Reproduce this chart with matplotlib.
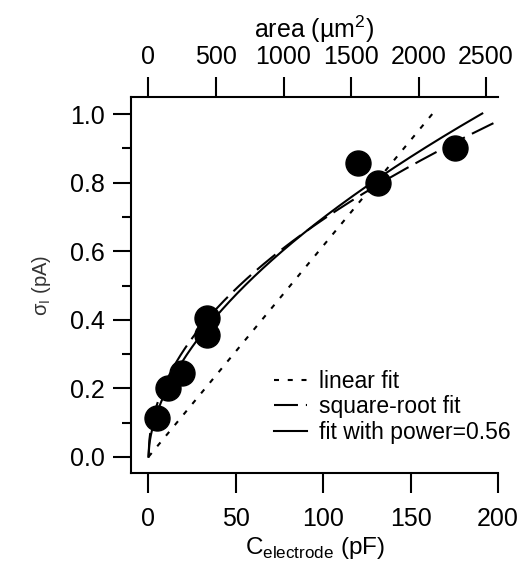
import matplotlib
matplotlib.use("Agg")
import matplotlib.pyplot as plt
import numpy as np

plt.rcParams["font.family"] = ["Liberation Sans", "DejaVu Sans"]
plt.rcParams["mathtext.fontset"] = "custom"
plt.rcParams["mathtext.rm"] = "Liberation Sans"

# measured points
c_electrode = [4.6, 11.4, 19.4, 33.7, 33.7, 120.0, 131.4, 175.4]   # pF
sigma_i = [0.114, 0.200, 0.245, 0.356, 0.405, 0.857, 0.800, 0.900]  # pA

# fit parameters
linear_slope = 0.00616
linear_cmax = 163.0
sqrt_coef = 0.0693
sqrt_cmax = 199.0
power_coef = 0.0529
power_exp = 0.56
power_cmax = 191.0

area_per_pf = 12.94  # um^2 per pF

x_ticks = [0, 50, 100, 150, 200]
y_ticks = [0.0, 0.2, 0.4, 0.6, 0.8, 1.0]
area_ticks = [0, 500, 1000, 1500, 2000, 2500]

LW = 1.5
TICK_FS = 18

fig = plt.figure(figsize=(5.32, 5.72), dpi=100)
ax = fig.add_axes([131 / 532, 1 - 473 / 572, 367 / 532, 376 / 572])

c_lin = np.linspace(0, linear_cmax, 200)
c_sqrt = np.linspace(0, sqrt_cmax, 400)
c_pow = np.linspace(0, power_cmax, 400)

ax.plot(c_lin, linear_slope * c_lin, color="black", lw=LW,
        linestyle=(0, (2.4, 4.2)), label="linear fit")
ax.plot(c_sqrt, sqrt_coef * np.sqrt(c_sqrt), color="black", lw=LW,
        linestyle=(0, (11.5, 3.8)), label="square-root fit")
ax.plot(c_pow, power_coef * c_pow ** power_exp, color="black", lw=LW,
        label="fit with power=0.56")
ax.plot(c_electrode, sigma_i, "o", color="black", ms=18, mec="black",
        zorder=5)

ax.set_xlim(-10, 200)
ax.set_ylim(-0.047, 1.05)
ax.set_xticks(x_ticks)
ax.set_yticks(y_ticks)
ax.set_yticks(np.arange(0.1, 1.0, 0.2), minor=True)
ax.set_yticklabels([f"{v:.1f}" for v in y_ticks])

for side in ("top", "right"):
    ax.spines[side].set_visible(False)
for side in ("left", "bottom"):
    ax.spines[side].set_linewidth(LW)

ax.tick_params(axis="x", which="major", direction="out", length=14.4,
               width=LW, labelsize=TICK_FS, pad=10)
ax.tick_params(axis="y", which="major", direction="out", length=13,
               width=LW, labelsize=TICK_FS, pad=6)
ax.tick_params(axis="y", which="minor", direction="out", length=6.5,
               width=LW)

ax.set_xlabel("C$_{\\rm electrode}$ (pF)", fontsize=17.5, labelpad=3)
ax.set_ylabel("σ$_{\\rm I}$ (pA)", fontsize=14.5, color="#333333",
              labelpad=12)

top = ax.secondary_xaxis("top", functions=(lambda c: c * area_per_pf,
                                           lambda a: a / area_per_pf))
top.set_xticks(area_ticks)
top.spines["top"].set_linewidth(LW)
top.tick_params(axis="x", direction="out", length=14.4, width=LW,
                labelsize=TICK_FS, pad=6)
top.set_xlabel("area (µm$^2$)", fontsize=18, labelpad=5)

ax.legend(loc="upper left", bbox_to_anchor=(0.39, 0.275), frameon=False,
          fontsize=16.5, handlelength=1.45, handletextpad=0.5,
          labelspacing=0.12, borderpad=0, borderaxespad=0)

fig.savefig("out.png", dpi=100)
